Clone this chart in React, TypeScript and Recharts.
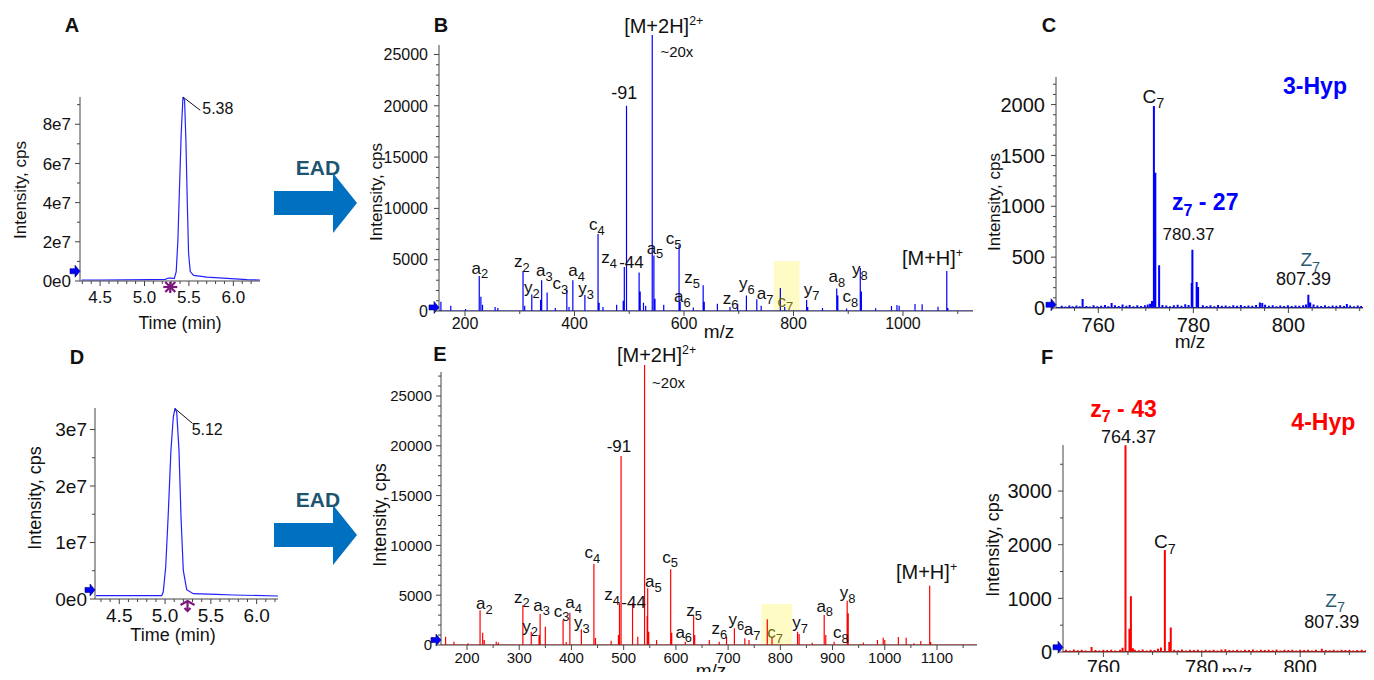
import React from 'react';
import { ComposedChart, Line, XAxis, YAxis, ReferenceDot, ReferenceLine, ReferenceArea } from 'recharts';

const FONT = '"Liberation Sans", Arial, Helvetica, sans-serif';
const AX = '#444';
const INK = '#111';
const BLUE = '#0000ff';
const RED = '#ff0000';
const TEAL = '#2b5a6e';
const OLIVE = '#6a6a12';
const PURPLE = '#7b167b';

// XIC traces: [time (min), intensity (cps)]
const xicA: [number, number][] = [
  [4.293, 5.1e5], [4.5, 5.0e5], [5.064, 6.8e5], [5.233, 8.5e5], [5.27, 1.5e6], [5.308, 1.5e6], [5.335, 1.2e6],
  [5.357, 4.8e6], [5.376, 2.09e7], [5.394, 4.8e7], [5.413, 7.52e7], [5.433, 9.39e7], [5.451, 9.22e7],
  [5.466, 7.18e7], [5.481, 4.13e7], [5.496, 1.41e7], [5.515, 4.8e6], [5.553, 2.9e6], [5.703, 2.0e6],
  [5.929, 1.36e6], [6.154, 6.8e5], [6.3, 5.1e5],
];
const xicD: [number, number][] = [
  [4.246, 5.9e5], [4.653, 5.9e5], [4.963, 5.9e5], [4.98, 1.24e6], [5.007, 5.66e6], [5.035, 1.51e7],
  [5.064, 2.63e7], [5.09, 3.22e7], [5.108, 3.37e7], [5.127, 3.31e7], [5.152, 2.63e7], [5.174, 1.45e7],
  [5.199, 5.07e6], [5.236, 1.65e6], [5.308, 9.4e5], [5.563, 8.3e5], [5.745, 7.1e5], [6.233, 5.3e5],
];

// EAD spectra: [m/z, intensity (cps)]
const specB: [number, number][] = [
  [156, 900], [174, 500], [201, 200], [226, 3400], [229, 1400], [232, 600], [255, 400], [260, 300],
  [306, 3900], [309, 500], [322, 1600], [338, 1100], [340, 3000], [350, 1800], [365, 300], [386, 2100],
  [390, 400], [397, 3000], [419, 1550], [443, 7500], [445, 800], [452, 400], [477, 600], [489, 1000],
  [491, 4300], [495, 20000], [518, 3750], [520, 1900], [526, 800], [530, 500], [542, 26900], [545, 5400],
  [547, 1200], [563, 600], [591, 6400], [593, 900], [617, 350], [635, 2500], [637, 900], [661, 700],
  [684, 400], [698, 700], [714, 1500], [733, 1150], [741, 500], [776, 2240], [784, 400], [824, 1070],
  [826, 400], [853, 300], [879, 2200], [881, 1500], [897, 250], [922, 4200], [924, 1900], [950, 260],
  [979, 480], [989, 580], [993, 500], [1022, 680], [1035, 650], [1064, 420], [1080, 3900], [1082, 300],
];
const specE: [number, number][] = [
  [159, 840], [175, 330], [202, 170], [225, 3500], [230, 1240], [233, 500], [256, 330], [260, 250],
  [307, 4000], [323, 1340], [338, 1000], [340, 3100], [350, 1840], [384, 2500], [390, 300], [397, 3250],
  [419, 1570], [443, 8130], [446, 700], [476, 435], [490, 1000], [492, 4180], [495, 18980], [517, 4250],
  [527, 840], [540, 28100], [545, 2900], [546, 5690], [548, 1340], [563, 500], [590, 7600], [592, 1240],
  [618, 330], [634, 2900], [636, 1000], [664, 500], [683, 330], [697, 840], [712, 1670], [732, 670],
  [740, 500], [775, 2580], [784, 840], [833, 1340], [836, 1100], [861, 230], [884, 3000], [887, 1000],
  [903, 330], [928, 4450], [930, 3180], [954, 100], [959, 250], [986, 500], [997, 740], [1000, 500],
  [1026, 800], [1041, 740], [1056, 170], [1069, 400], [1086, 5960], [1088, 300],
];

// zoomed c7 / z7 regions
const peaksC: [number, number][] = [
  [771.7, 1985], [772.0, 1330], [772.8, 420], [779.66, 245], [779.8, 572], [780.7, 255], [781.0, 206],
];
const noiseC: [number, number][] = [
  [752.3, 22], [753.1, 15], [753.9, 25], [754.6, 18], [755.4, 24], [756.1, 16], [756.7, 88], [757.5, 20],
  [758.2, 14], [759.0, 26], [759.8, 18], [760.6, 22], [761.4, 30], [762.1, 18], [762.8, 50], [763.5, 28],
  [764.3, 20], [765.1, 34], [765.9, 22], [766.6, 30], [767.4, 18], [768.2, 26], [769.0, 20], [769.8, 28],
  [770.4, 35], [770.9, 42], [771.3, 70], [773.5, 30], [774.3, 24], [775.1, 18], [775.9, 26], [776.7, 32],
  [777.5, 22], [778.3, 36], [779.0, 30], [782.0, 28], [782.8, 20], [783.6, 26], [784.4, 18], [785.2, 30],
  [786.0, 22], [786.8, 25], [787.6, 18], [788.4, 27], [789.2, 21], [790.0, 30], [790.8, 19], [791.6, 25],
  [792.4, 22], [793.2, 30], [794.0, 55], [794.5, 50], [795.1, 32], [795.9, 22], [796.7, 26], [797.5, 18],
  [798.3, 24], [799.1, 20], [799.9, 27], [800.7, 19], [801.5, 25], [802.3, 22], [803.1, 28], [803.7, 35],
  [804.2, 130], [804.6, 55], [805.3, 35], [806.1, 24], [806.9, 20], [807.7, 27], [808.5, 18], [809.3, 25],
  [810.1, 21], [810.9, 26], [811.7, 20], [812.3, 40], [813.0, 24], [813.8, 18], [814.6, 25], [815.3, 20],
];
const peaksF: [number, number][] = [
  [764.5, 3856], [765.3, 435], [765.6, 1040], [766.0, 70], [772.5, 1900], [773.4, 187], [773.7, 455],
];
const noiseF: [number, number][] = [
  [752.4, 40], [753.2, 28], [754.0, 45], [754.8, 33], [755.6, 42], [756.4, 30], [757.6, 93], [758.4, 38],
  [759.2, 30], [760.0, 44], [760.8, 35], [761.6, 40], [762.4, 28], [763.4, 44], [763.9, 80], [766.4, 42],
  [767.2, 33], [768.0, 45], [768.8, 30], [769.6, 40], [770.4, 35], [771.1, 60], [771.7, 85], [774.4, 40],
  [775.2, 33], [776.0, 45], [776.8, 30], [777.6, 42], [778.4, 35], [779.2, 40], [780.0, 30], [780.8, 44],
  [781.6, 33], [782.4, 40], [783.2, 30], [784.0, 45], [784.8, 50], [785.6, 38], [786.4, 33], [787.2, 44],
  [788.0, 30], [788.8, 40], [789.6, 35], [790.4, 45], [791.2, 30], [792.0, 42], [792.8, 36], [793.6, 40],
  [794.4, 33], [795.2, 45], [796.0, 30], [796.8, 40], [797.6, 36], [798.4, 44], [799.2, 30], [800.0, 40],
  [800.8, 35], [801.6, 42], [802.4, 30], [803.2, 40], [804.4, 60], [805.2, 38], [806.0, 33], [806.8, 44],
  [807.6, 30], [808.4, 40], [809.2, 35], [810.0, 42], [810.8, 30], [811.6, 38], [812.5, 40], [813.3, 33],
  [814.1, 36],
];

// fragment ion labels: [letter, index, m/z, intensity where the text sits]
const ionsB: [string, string, number, number][] = [
  ['a', '2', 227, 3650], ['z', '2', 304, 4300], ['y', '2', 322, 1710], ['a', '3', 345, 3400],
  ['c', '3', 374, 2100], ['a', '4', 404, 3400], ['y', '3', 421, 1650], ['c', '4', 441, 7850],
  ['z', '4', 463, 4700], ['a', '5', 547, 5600], ['c', '5', 581, 6550], ['a', '6', 597, 900],
  ['z', '5', 615, 2700], ['z', '6', 685, 680], ['y', '6', 715, 2100], ['a', '7', 748, 1130],
  ['y', '7', 833, 1550], ['a', '8', 879, 2850], ['c', '8', 904, 900], ['y', '8', 921, 3500],
];
const ionsE: [string, string, number, number][] = [
  ['a', '2', 233, 3580], ['z', '2', 305, 4250], ['y', '2', 321, 1340], ['a', '3', 343, 3450],
  ['c', '3', 381, 2845], ['a', '4', 404, 3680], ['y', '3', 420, 1670], ['c', '4', 440, 8700],
  ['z', '4', 478, 4520], ['a', '5', 557, 5790], ['c', '5', 589, 8270], ['a', '6', 615, 740],
  ['z', '5', 635, 2945], ['z', '6', 683, 1100], ['y', '6', 716, 2000], ['a', '7', 746, 1000],
  ['y', '7', 838, 1670], ['a', '8', 885, 3350], ['c', '8', 916, 670], ['y', '8', 929, 4690],
];

const steps = (a: number, b: number, s: number) => {
  const out: number[] = [];
  for (let v = a; v <= b + s * 1e-6; v += s) out.push(Math.round(v * 1e6) / 1e6);
  return out;
};
const toXY = (pts: [number, number][]) => pts.map(([x, y]) => ({ x, y }));
// stick spectrum: each peak drawn as a vertical line from the baseline
const sticks = (peaks: [number, number][], lo: number, hi: number) => {
  const out = [{ x: lo, y: 0 }];
  [...peaks].sort((a, b) => a[0] - b[0]).forEach(([m, h]) => {
    out.push({ x: m, y: 0 }, { x: m, y: h }, { x: m, y: 0 });
  });
  out.push({ x: hi, y: 0 });
  return out;
};
const near = (list: number[], v: number) => list.some((m) => Math.abs(m - v) <= 1e-9 * Math.max(1, Math.abs(m)));

type Cfg = {
  left: number; top: number; width: number; height: number;
  plot: [number, number, number, number];
  xDomain: [number, number]; yDomain: [number, number];
  xMajor: number[]; xMinor: number[]; yMajor: number[]; yMinor: number[];
  xFmt: (v: number) => string; yFmt: (v: number) => string;
  fs: number; yGap: number; xOff: number; yAxisTop?: number;
};

function Panel({ cfg, children }: { cfg: Cfg; children?: React.ReactNode }) {
  const YW = 50;
  const XH = 20;
  const [px0, py0, px1, py1] = cfg.plot;
  const margin = {
    top: py0 - cfg.top,
    left: px0 - cfg.left - YW,
    right: cfg.left + cfg.width - px1,
    bottom: cfg.top + cfg.height - py1 - XH,
  };
  const xTicks = Array.from(new Set([...cfg.xMajor, ...cfg.xMinor])).sort((a, b) => a - b);
  const yTicks = Array.from(new Set([...cfg.yMajor, ...cfg.yMinor])).sort((a, b) => a - b);

  const xTick = (p: any) => {
    const v = p.payload.value;
    const major = near(cfg.xMajor, v);
    return (
      <g>
        <line x1={p.x} x2={p.x} y1={p.y} y2={p.y + (major ? 5 : 3)} stroke={AX} />
        {major && (
          <text x={p.x} y={p.y + cfg.xOff} textAnchor="middle" fontFamily={FONT} fontSize={cfg.fs} fill={INK}>
            {cfg.xFmt(v)}
          </text>
        )}
      </g>
    );
  };
  const yTick = (p: any) => {
    const v = p.payload.value;
    const major = near(cfg.yMajor, v);
    return (
      <g>
        <line x1={p.x - (major ? 5 : 3)} x2={p.x} y1={p.y} y2={p.y} stroke={AX} />
        {major && (
          <text x={p.x - cfg.yGap} y={p.y} dy="0.36em" textAnchor="end" fontFamily={FONT} fontSize={cfg.fs} fill={INK}>
            {cfg.yFmt(v)}
          </text>
        )}
      </g>
    );
  };

  return (
    <div style={{ position: 'absolute', left: cfg.left, top: cfg.top, width: cfg.width, height: cfg.height }}>
      <ComposedChart width={cfg.width} height={cfg.height} margin={margin}>
        <XAxis type="number" dataKey="x" domain={cfg.xDomain} allowDataOverflow ticks={xTicks} interval={0}
          tickSize={0} tickMargin={0} tickLine={false} height={XH} axisLine={{ stroke: AX }} tick={xTick} />
        <YAxis type="number" domain={cfg.yDomain} allowDataOverflow ticks={yTicks} interval={0}
          tickSize={0} tickMargin={0} tickLine={false} width={YW}
          axisLine={cfg.yAxisTop ? false : { stroke: AX }} tick={yTick} />
        {cfg.yAxisTop && (
          <ReferenceLine ifOverflow="visible" stroke={AX}
            segment={[{ x: cfg.xDomain[0], y: 0 }, { x: cfg.xDomain[0], y: cfg.yAxisTop }]} />
        )}
        {children}
      </ComposedChart>
    </div>
  );
}

const note = (key: string, x: number, y: number, draw: (cx: number, cy: number) => React.ReactNode) => (
  <ReferenceDot key={key} x={x} y={y} r={0} ifOverflow="visible"
    shape={(p: any) => <g>{draw(p.cx, p.cy)}</g>} />
);

const ionLabel = (t: string, sub: string, fs: number, color = INK) => (cx: number, cy: number) => (
  <text x={cx} y={cy} textAnchor="middle" fontFamily={FONT} fontSize={fs} fill={color}>
    {t}
    <tspan fontSize={fs * 0.76} dy={fs * 0.28}>{sub}</tspan>
  </text>
);
const plain = (t: string, fs: number, opts: { color?: string; bold?: boolean; anchor?: 'start' | 'middle' | 'end' } = {}) =>
  (cx: number, cy: number) => (
    <text x={cx} y={cy} textAnchor={opts.anchor ?? 'middle'} fontFamily={FONT} fontSize={fs}
      fontWeight={opts.bold ? 700 : 400} fill={opts.color ?? INK}>
      {t}
    </text>
  );
const precursor = (charge: string, fs: number) => (cx: number, cy: number) => (
  <text x={cx} y={cy} textAnchor="middle" fontFamily={FONT} fontSize={fs} fill={INK}>
    {charge === '2+' ? '[M+2H]' : '[M+H]'}
    <tspan fontSize={fs * 0.62} dy={-fs * 0.4}>{charge}</tspan>
  </text>
);
const lossLabel = (n: string, fs: number, color: string) => (cx: number, cy: number) => (
  <text x={cx} y={cy} textAnchor="middle" fontFamily={FONT} fontSize={fs} fontWeight={700} fill={color}>
    z<tspan fontSize={fs * 0.7} dy={fs * 0.25}>7</tspan>
    <tspan dy={-fs * 0.25}>{` - ${n}`}</tspan>
  </text>
);
const blueMark = (cx: number, cy: number) => (
  <polygon
    points={`${cx - 10},${cy - 2.5} ${cx - 5},${cy - 2.5} ${cx - 5},${cy - 6} ${cx},${cy} ${cx - 5},${cy + 6} ${cx - 5},${cy + 2.5} ${cx - 10},${cy + 2.5}`}
    fill={BLUE} stroke="#000066" strokeWidth={0.6} />
);
const starMark = (cx: number, cy: number) => (
  <g stroke={PURPLE} strokeWidth={2.2}>
    <line x1={cx - 7} x2={cx + 7} y1={cy + 6} y2={cy + 6} />
    <line x1={cx} x2={cx} y1={cy + 1} y2={cy + 12} />
    <line x1={cx - 5} x2={cx + 5} y1={cy + 1} y2={cy + 11} />
    <line x1={cx - 5} x2={cx + 5} y1={cy + 11} y2={cy + 1} />
  </g>
);
const umbrellaMark = (cx: number, cy: number) => (
  <g stroke={PURPLE} strokeWidth={2.2} fill="none">
    <polyline points={`${cx - 7},${cy + 6} ${cx},${cy + 2} ${cx + 7},${cy + 6}`} />
    <line x1={cx} x2={cx} y1={cy + 2} y2={cy + 12} />
    <polyline points={`${cx - 3},${cy + 9} ${cx},${cy + 12} ${cx + 3},${cy + 9}`} />
  </g>
);

const e7 = (v: number) => (v === 0 ? '0e0' : `${Math.round(v / 1e7)}e7`);
const f1 = (v: number) => v.toFixed(1);
const int = (v: number) => String(v);

const cfgA: Cfg = {
  left: 0, top: 60, width: 280, height: 280, plot: [80, 97, 260, 281],
  xDomain: [4.274, 6.3], yDomain: [0, 9.39e7],
  xMajor: [4.5, 5, 5.5, 6], xMinor: steps(4.3, 6.2, 0.1),
  yMajor: [0, 2e7, 4e7, 6e7, 8e7], yMinor: steps(0, 9e7, 1e7),
  xFmt: f1, yFmt: e7, fs: 17, yGap: 9, xOff: 22,
};
const cfgD: Cfg = {
  left: 0, top: 390, width: 285, height: 260, plot: [95, 408, 278, 599],
  xDomain: [4.235, 6.233], yDomain: [0, 3.38e7],
  xMajor: [4.5, 5, 5.5, 6], xMinor: steps(4.3, 6.2, 0.1),
  yMajor: [0, 1e7, 2e7, 3e7], yMinor: steps(0, 3e7, 5e6),
  xFmt: f1, yFmt: e7, fs: 19, yGap: 8, xOff: 23,
};
const cfgB: Cfg = {
  left: 370, top: 0, width: 610, height: 340, plot: [439, 35, 973, 311],
  xDomain: [152.5, 1127.9], yDomain: [0, 26900], yAxisTop: 25926,
  xMajor: [200, 400, 600, 800, 1000], xMinor: steps(200, 1100, 100),
  yMajor: steps(0, 25000, 5000), yMinor: steps(0, 25000, 1000),
  xFmt: int, yFmt: int, fs: 16, yGap: 11, xOff: 18,
};
const cfgE: Cfg = {
  left: 370, top: 340, width: 610, height: 340, plot: [441, 365, 977, 645],
  xDomain: [150.2, 1176.6], yDomain: [0, 28112], yAxisTop: 27410,
  xMajor: steps(200, 1100, 100), xMinor: steps(200, 1150, 50),
  yMajor: steps(0, 25000, 5000), yMinor: steps(0, 27000, 1000),
  xFmt: int, yFmt: int, fs: 15, yGap: 9, xOff: 18,
};
const cfgC: Cfg = {
  left: 980, top: 40, width: 394, height: 310, plot: [1056, 77, 1363, 308],
  xDomain: [751.1, 815.7], yDomain: [0, 2271],
  xMajor: [760, 780, 800], xMinor: steps(755, 815, 5),
  yMajor: [0, 500, 1000, 1500, 2000], yMinor: steps(0, 2200, 100),
  xFmt: int, yFmt: int, fs: 20, yGap: 11, xOff: 24,
};
const cfgF: Cfg = {
  left: 980, top: 380, width: 394, height: 300, plot: [1063, 445, 1373, 652],
  xDomain: [751.8, 814.8], yDomain: [0, 3859],
  xMajor: [760, 780, 800], xMinor: steps(755, 810, 5),
  yMajor: [0, 1000, 2000, 3000], yMinor: steps(0, 3500, 500),
  xFmt: int, yFmt: int, fs: 20, yGap: 11, xOff: 22,
};

function Arrow({ dy }: { dy: number }) {
  return (
    <g transform={`translate(0 ${dy})`}>
      <text x={318} y={175} textAnchor="middle" fontFamily={FONT} fontSize={21} fontWeight={700} fill="#1d5470">EAD</text>
      <polygon points="274,191 333,191 333,173 357,203 333,233 333,215 274,215" fill="#0070c0" />
    </g>
  );
}

function Title({ x, y, text, fs = 17, rotate = false, bold = false }: { x: number; y: number; text: string; fs?: number; rotate?: boolean; bold?: boolean }) {
  return (
    <text x={x} y={y} textAnchor="middle" dominantBaseline="central" fontFamily={FONT} fontSize={fs}
      fontWeight={bold ? 700 : 400} fill={INK} transform={rotate ? `rotate(-90 ${x} ${y})` : undefined}>
      {text}
    </text>
  );
}

export default function App() {
  return (
    <div style={{ position: 'relative', width: 1374, height: 680, margin: -8, background: '#fff', overflow: 'hidden' }}>
      {/* A: XIC, 3-Hyp */}
      <Panel cfg={cfgA}>
        <Line data={toXY(xicA)} dataKey="y" type="linear" stroke="#2222ff" strokeWidth={1.2} dot={false} isAnimationActive={false} />
        <ReferenceLine ifOverflow="visible" stroke={INK} segment={[{ x: 5.433, y: 9.39e7 }, { x: 5.628, y: 8.71e7 }]} />
        {note('lblA', 5.65, 8.5e7, plain('5.38', 16, { anchor: 'start' }))}
        {note('arrA', 4.274, 5e6, blueMark)}
        {note('starA', 5.29, 0, starMark)}
      </Panel>

      {/* D: XIC, 4-Hyp */}
      <Panel cfg={cfgD}>
        <Line data={toXY(xicD)} dataKey="y" type="linear" stroke="#2222ff" strokeWidth={1.2} dot={false} isAnimationActive={false} />
        <ReferenceLine ifOverflow="visible" stroke={INK} segment={[{ x: 5.108, y: 3.37e7 }, { x: 5.3, y: 3.107e7 }]} />
        {note('lblD', 5.29, 2.894e7, plain('5.12', 16, { anchor: 'start' }))}
        {note('arrD', 4.235, 1.6e6, blueMark)}
        {note('umbD', 5.245, 0, umbrellaMark)}
      </Panel>

      {/* B: EAD spectrum, 3-Hyp */}
      <Panel cfg={cfgB}>
        <ReferenceArea x1={764} x2={811} y1={0} y2={4870} fill="#fffbc4" fillOpacity={1} stroke="none" ifOverflow="visible" />
        <Line data={sticks(specB, 152.5, 1127.9)} dataKey="y" type="linear" stroke={BLUE} strokeWidth={1.2} dot={false} isAnimationActive={false} />
        {ionsB.map(([t, s, x, y]) => note(`b${t}${s}`, x, y, ionLabel(t, s, 17)))}
        {note('bc7', 785, 420, ionLabel('c', '7', 17, OLIVE))}
        {note('b91', 491, 20700, plain('-91', 18))}
        {note('b44', 504, 4150, plain('-44', 17))}
        {note('bM2', 563, 27070, precursor('2+', 20))}
        {note('b20x', 587, 24800, plain('~20x', 15))}
        {note('bM1', 1054, 4450, precursor('+', 20))}
        {note('arrB', 152.5, 350, blueMark)}
      </Panel>

      {/* E: EAD spectrum, 4-Hyp */}
      <Panel cfg={cfgE}>
        <ReferenceArea x1={764} x2={823} y1={0} y2={4120} fill="#fffbc4" fillOpacity={1} stroke="none" ifOverflow="visible" />
        <Line data={sticks(specE, 150.2, 1176.6)} dataKey="y" type="linear" stroke={RED} strokeWidth={1.2} dot={false} isAnimationActive={false} />
        {ionsE.map(([t, s, x, y]) => note(`e${t}${s}`, x, y, ionLabel(t, s, 17)))}
        {note('ec7', 790, 670, ionLabel('c', '7', 17, OLIVE))}
        {note('e91', 491, 19400, plain('-91', 17))}
        {note('e44', 519, 3750, plain('-44', 17))}
        {note('eM2', 563, 28450, precursor('2+', 20))}
        {note('e20x', 586, 25770, plain('~20x', 15))}
        {note('eM1', 1080, 6590, precursor('+', 20))}
        {note('arrE', 150.2, 500, blueMark)}
      </Panel>

      {/* C: zoom, 3-Hyp */}
      <Panel cfg={cfgC}>
        <Line data={sticks([...peaksC, ...noiseC], 751.1, 815.7)} dataKey="y" type="linear" stroke={BLUE} strokeWidth={2} dot={false} isAnimationActive={false} />
        {note('cC7', 771.6, 2020, ionLabel('C', '7', 19))}
        {note('cLoss', 782.5, 964, lossLabel('27', 23, BLUE))}
        {note('c780', 779.0, 670, plain('780.37', 17))}
        {note('cZ7', 804.6, 408, ionLabel('Z', '7', 19, TEAL))}
        {note('c807', 803.2, 228, plain('807.39', 18))}
        {note('cHyp', 805.6, 2108, plain('3-Hyp', 23, { color: BLUE, bold: true }))}
        {note('arrC', 751.1, 32, blueMark)}
      </Panel>

      {/* F: zoom, 4-Hyp */}
      <Panel cfg={cfgF}>
        <Line data={sticks([...peaksF, ...noiseF], 751.8, 814.8)} dataKey="y" type="linear" stroke={RED} strokeWidth={2} dot={false} isAnimationActive={false} />
        {note('fLoss', 764.1, 4387, lossLabel('43', 23, RED))}
        {note('f764', 765.1, 3902, plain('764.37', 18))}
        {note('fC7', 772.5, 1930, ionLabel('C', '7', 19))}
        {note('fZ7', 807.1, 840, ionLabel('Z', '7', 19, TEAL))}
        {note('f807', 806.4, 455, plain('807.39', 18))}
        {note('fHyp', 804.7, 4139, plain('4-Hyp', 23, { color: RED, bold: true }))}
        {note('arrF', 751.8, 88, blueMark)}
      </Panel>

      <svg width={1374} height={680} style={{ position: 'absolute', left: 0, top: 0, pointerEvents: 'none' }}>
        <Title x={72} y={25} text="A" fs={20} bold />
        <Title x={441} y={25} text="B" fs={20} bold />
        <Title x={1049} y={25} text="C" fs={20} bold />
        <Title x={77} y={357} text="D" fs={20} bold />
        <Title x={440} y={354} text="E" fs={20} bold />
        <Title x={1047} y={357} text="F" fs={20} bold />

        <Title x={20} y={190} text="Intensity, cps" rotate />
        <Title x={180} y={323} text="Time (min)" fs={17.5} />
        <Title x={376} y={192} text="Intensity, cps" rotate />
        <Title x={719} y={331} text="m/z" fs={19} />
        <Title x={994} y={202} text="Intensity, cps" rotate />
        <Title x={1190} y={341} text="m/z" fs={19} />

        <Title x={35} y={498} text="Intensity, cps" fs={18} rotate />
        <Title x={173} y={635} text="Time (min)" fs={18} />
        <Title x={380} y={515} text="Intensity, cps" fs={18} rotate />
        <Title x={711} y={670} text="m/z" fs={19} />
        <Title x={993} y={545} text="Intensity, cps" fs={18} rotate />
        <Title x={1237} y={671} text="m/z" fs={19} />

        <Arrow dy={0} />
        <Arrow dy={332} />
      </svg>
    </div>
  );
}
